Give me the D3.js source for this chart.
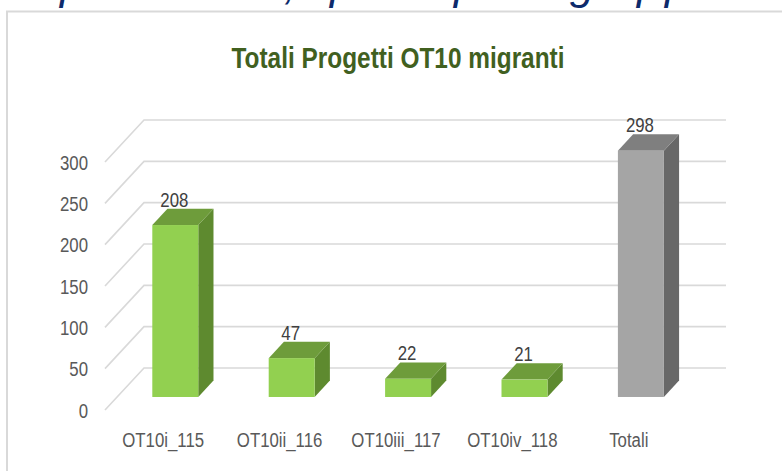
<!DOCTYPE html>
<html>
<head>
<meta charset="utf-8">
<script src="https://cdn.jsdelivr.net/npm/d3@7"></script>
<style>
  html, body { margin: 0; padding: 0; background: #fff; overflow: hidden; }
  svg { display: block; }
  text { font-family: "Liberation Sans", sans-serif; }
</style>
</head>
<body>
<svg id="chart" width="782" height="471"></svg>
<script>
// chart data
const categories = ["OT10i_115", "OT10ii_116", "OT10iii_117", "OT10iv_118", "Totali"];
const values = [208, 47, 22, 21, 298];
const yTicks = [0, 50, 100, 150, 200, 250, 300];
const title = "Totali Progetti OT10 migranti";

const width = 782, height = 471;
const svg = d3.select("#chart");
const narrow = 0.8; // the labels are a condensed face, squeeze them

// cropped slide heading above the chart (only descenders visible)
const heading = svg.append("text")
  .attr("y", -1)
  .style("font-style", "italic")
  .style("font-size", "44px")
  .attr("fill", "#0d2a6b");
[["p", 60], [",", 284], ["p", 330], ["p", 454], ["g", 570], ["p", 637], ["p", 665]].forEach(([c, x]) => {
  heading.append("tspan").attr("x", x).text(c);
});

// chart frame
svg.append("rect")
  .attr("x", 7).attr("y", 11.5)
  .attr("width", 820).attr("height", 520)
  .attr("fill", "#fff")
  .attr("stroke", "#d9d9d9")
  .attr("stroke-width", 2);

// title
svg.append("text")
  .attr("x", 398).attr("y", 68)
  .attr("text-anchor", "middle")
  .attr("fill", "#41601f")
  .style("font-weight", "bold")
  .style("font-size", "29px")
  .attr("textLength", 333)
  .attr("lengthAdjust", "spacingAndGlyphs")
  .text(title);

// 3d projection: front plane coordinates + depth z (0 front, 1 back wall)
const depthX = 39, depthY = -42;
const proj = (x, y, z) => [x + depthX * z, y + depthY * z];

const x = d3.scaleBand()
  .domain(categories)
  .range([105, 687])
  .paddingInner(0.605)
  .paddingOuter(0.3025);

const y = d3.scaleLinear()
  .domain([0, 300])
  .range([410, 162]);

// gridlines: back wall + left wall diagonals
const grid = svg.append("g")
  .attr("stroke", "#d9d9d9")
  .attr("stroke-width", 1.6)
  .attr("fill", "none");

yTicks.forEach(t => {
  const a = proj(105, y(t), 0), b = proj(105, y(t), 1), c = proj(687, y(t), 1);
  grid.append("path").attr("d", `M${a}L${b}L${c}`);
});

// y axis labels
svg.append("g")
  .selectAll("text")
  .data(yTicks)
  .join("text")
  .attr("transform", d => `translate(88,${y(d)}) scale(${narrow},1)`)
  .attr("dy", "0.36em")
  .attr("text-anchor", "end")
  .attr("fill", "#595959")
  .style("font-size", "21px")
  .text(d => d);

// bars
const zFront = 0.31, zBack = 0.7;
const bw = x.bandwidth();
const palette = {
  green: { front: "#92d050", top: "#6e9c3b", side: "#5e8a2f" },
  gray: { front: "#a5a5a5", top: "#7f7f7f", side: "#686868" }
};

const bars = svg.append("g");
categories.forEach((cat, i) => {
  const v = values[i];
  const col = cat === "Totali" ? palette.gray : palette.green;
  const xl = x(cat), xr = xl + bw;
  const y0 = y(0), y1 = y(v);

  const fbl = proj(xl, y0, zFront), fbr = proj(xr, y0, zFront);
  const ftl = proj(xl, y1, zFront), ftr = proj(xr, y1, zFront);
  const btl = proj(xl, y1, zBack), btr = proj(xr, y1, zBack);
  const bbr = proj(xr, y0, zBack);

  // side face
  bars.append("path")
    .attr("d", `M${ftr}L${btr}L${bbr}L${fbr}Z`)
    .attr("fill", col.side);
  // top face
  bars.append("path")
    .attr("d", `M${ftl}L${btl}L${btr}L${ftr}Z`)
    .attr("fill", col.top);
  // front face
  bars.append("rect")
    .attr("x", ftl[0]).attr("y", ftl[1])
    .attr("width", bw).attr("height", fbl[1] - ftl[1])
    .attr("fill", col.front);

  // data label
  bars.append("text")
    .attr("transform", `translate(${(ftl[0] + ftr[0]) / 2 - 1},${btl[1] - 2}) scale(${narrow},1)`)
    .attr("text-anchor", "middle")
    .attr("fill", "#404040")
    .style("font-size", "21px")
    .text(v);
});

// category labels
svg.append("g")
  .selectAll("text")
  .data(categories)
  .join("text")
  .attr("transform", d => `translate(${x(d) + bw / 2},447) scale(${narrow},1)`)
  .attr("text-anchor", "middle")
  .attr("fill", "#595959")
  .style("font-size", "21px")
  .text(d => d);
</script>
</body>
</html>
